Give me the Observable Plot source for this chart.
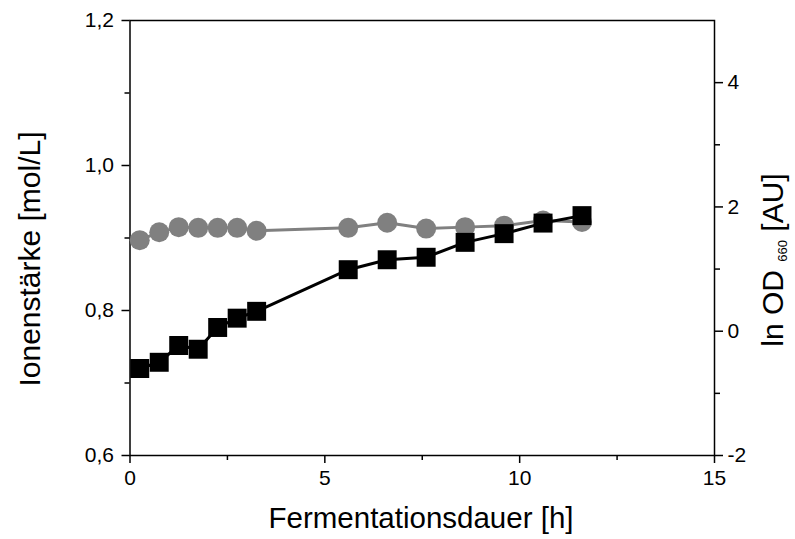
<!DOCTYPE html>
<html>
<head>
<meta charset="utf-8">
<script src="https://cdn.jsdelivr.net/npm/d3@7"></script>
<script src="https://cdn.jsdelivr.net/npm/@observablehq/plot@0.6"></script>
<style>
  html, body { margin: 0; padding: 0; background: #fff; }
</style>
</head>
<body>
<div id="chart"></div>
<script>
// Data
const time  = [0.25, 0.75, 1.25, 1.75, 2.25, 2.75, 3.25, 5.6, 6.6, 7.6, 8.6, 9.6, 10.6, 11.6];
const ionic = [0.897, 0.908, 0.915, 0.914, 0.914, 0.914, 0.910, 0.914, 0.921, 0.913, 0.915, 0.917, 0.924, 0.922];
const lnOD  = [-0.60, -0.50, -0.23, -0.29, 0.06, 0.21, 0.32, 0.99, 1.15, 1.19, 1.43, 1.57, 1.74, 1.86];

const xTicks = [0, 5, 10, 15];
const xMinor = [2.5, 7.5, 12.5];
const leftTicks = [0.6, 0.8, 1.0, 1.2];
const leftMinor = [0.7, 0.9, 1.1];
const odTicks = [-2, 0, 2, 4];
const odMinor = [-1, 1, 3];

const leftDomain = [0.6, 1.2];
const odDomain = [-2, 5];

const toLeft = v => leftDomain[0] + (v - odDomain[0]) / (odDomain[1] - odDomain[0]) * (leftDomain[1] - leftDomain[0]);
const fromLeft = y => odDomain[0] + (y - leftDomain[0]) / (leftDomain[1] - leftDomain[0]) * (odDomain[1] - odDomain[0]);

const rows = time.map((t, i) => ({t, ion: ionic[i], od: lnOD[i]}));

const font = "'Liberation Sans', Arial, sans-serif";

const svg = Plot.plot({
  width: 795,
  height: 539,
  marginLeft: 129.5,
  marginRight: 81,
  marginTop: 20,
  marginBottom: 84,
  x: {domain: [0, 15]},
  y: {domain: leftDomain},
  style: {fontFamily: font, fontSize: "21px", color: "#000", background: "#fff", overflow: "visible"},
  marks: [
    Plot.frame({stroke: "#000", strokeWidth: 1.5}),
    Plot.axisX({ticks: xTicks, tickSize: 8, tickPadding: 7, label: null, tickFormat: d => String(d), strokeWidth: 1.5, fontSize: 21}),
    Plot.axisX({ticks: xMinor, tickSize: 5, text: null, label: null, strokeWidth: 1.5}),
    Plot.axisY({ticks: leftTicks, tickSize: 8, tickPadding: 8, label: null, strokeWidth: 1.5, fontSize: 21,
      tickFormat: d => d3.format(".1f")(d).replace(".", ",")}),
    Plot.axisY({ticks: leftMinor, tickSize: 5, text: null, label: null, strokeWidth: 1.5}),
    Plot.axisY({anchor: "right", ticks: odTicks.map(toLeft), tickSize: 8, tickPadding: 5, label: null, strokeWidth: 1.5, fontSize: 21,
      tickFormat: d => String(Math.round(fromLeft(d)))}),
    Plot.axisY({anchor: "right", ticks: odMinor.map(toLeft), tickSize: 5, text: null, label: null, strokeWidth: 1.5}),
    Plot.line(rows, {x: "t", y: "ion", stroke: "#808080", strokeWidth: 3}),
    Plot.dot(rows, {x: "t", y: "ion", r: 10, fill: "#808080", stroke: null}),
    Plot.line(rows, {x: "t", y: d => toLeft(d.od), stroke: "#000", strokeWidth: 3}),
    Plot.dot(rows, {x: "t", y: d => toLeft(d.od), symbol: "square", r: 10.7, fill: "#000", stroke: null})
  ]
});

const s = d3.select(svg);
s.append("text")
  .attr("x", 421).attr("y", 528)
  .attr("text-anchor", "middle")
  .style("font-family", font).style("font-size", "29.5px").attr("fill", "#000")
  .text("Fermentationsdauer [h]");

s.append("text")
  .attr("transform", "translate(40,259) rotate(-90)")
  .attr("text-anchor", "middle")
  .style("font-family", font).style("font-size", "30px").attr("fill", "#000")
  .text("Ionenstärke [mol/L]");

const rt = s.append("text")
  .attr("transform", "translate(783,260) rotate(-90)")
  .attr("text-anchor", "middle")
  .style("font-family", font).style("font-size", "30px").attr("fill", "#000");
rt.append("tspan").text("ln OD ");
rt.append("tspan").attr("dy", 4).style("font-size", "13px").text("660");
rt.append("tspan").attr("dy", -4).text(" [AU]");

document.getElementById("chart").appendChild(svg);
</script>
</body>
</html>
